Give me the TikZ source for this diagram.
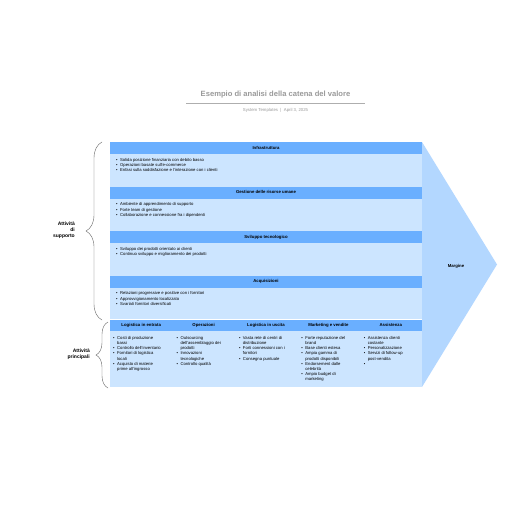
\documentclass[tikz,border=0pt]{standalone}
\usepackage{fontspec}
\setmainfont{Liberation Sans}
\usepackage{xcolor}
\usetikzlibrary{positioning, decorations.pathreplacing}

\definecolor{headblue}{HTML}{6AAFFF}
\definecolor{bodyblue}{HTML}{CCE5FF}
\definecolor{arrowblue}{HTML}{B3D7FF}
\definecolor{titlegray}{HTML}{9A9A9A}

\begin{document}
\begin{tikzpicture}[x=1pt, y=-1pt]
    % Define styles
    \tikzstyle{rowhead} = [rectangle, fill=headblue, minimum width=312pt, minimum height=12pt, inner sep=0pt, outer sep=0pt, text height=3.2pt, text depth=1pt, font=\fontsize{4.3}{5}\selectfont\bfseries]
    \tikzstyle{rowbody} = [rectangle, fill=bodyblue, minimum width=312pt, minimum height=32.5pt, inner sep=0pt, outer sep=0pt]
    \tikzstyle{colhead} = [rectangle, fill=headblue, minimum width=62.4pt, minimum height=11pt, inner sep=0pt, outer sep=0pt, text height=3.2pt, text depth=1pt, font=\fontsize{4.3}{5}\selectfont\bfseries]
    \tikzstyle{colbody} = [rectangle, fill=bodyblue, minimum width=62.4pt, minimum height=56pt, inner sep=0pt, outer sep=0pt]
    \tikzstyle{items} = [anchor=north west, inner sep=0pt, align=left, font=\fontsize{4.2}{5.2}\selectfont]
    \tikzstyle{sidelabel} = [anchor=east, align=right, inner sep=0pt, font=\fontsize{5}{6.2}\selectfont\bfseries]
    \tikzstyle{bracket} = [draw=black!60, line width=0.4pt, decorate]

    \useasboundingbox[fill=white] (0,0) rectangle (516,516);

    % Title
    \node[font=\fontsize{7.6}{9}\selectfont\bfseries, text=titlegray] (title) at (275.5,95) {Esempio di analisi della catena del valore};
    \draw[titlegray!80, line width=0.5pt] ([xshift=-11pt, yshift=-1.2pt]title.south west) -- ([xshift=11pt, yshift=-1.2pt]title.south east);
    \node[font=\fontsize{4.3}{5}\selectfont, text=titlegray, below=3pt of title] (subtitle) {System Templates \ | \ April 3, 2025};

    % Margin arrow
    \fill[arrowblue] (422,142) -- (497,264.5) -- (422,387) -- cycle;
    \node[font=\fontsize{4.3}{5}\selectfont\bfseries] (margin) at (456,266) {Margine};

    % Support activities
    \node[rowhead, anchor=north west] (infraHead) at (110,142) {Infrastruttura};
    \node[rowbody, below=0pt of infraHead] (infraBody) {};
    \node[rowhead, below=0pt of infraBody] (hrHead) {Gestione delle risorse umane};
    \node[rowbody, below=0pt of hrHead] (hrBody) {};
    \node[rowhead, below=0pt of hrBody] (techHead) {Sviluppo tecnologico};
    \node[rowbody, below=0pt of techHead] (techBody) {};
    \node[rowhead, below=0pt of techBody] (procHead) {Acquisizioni};
    \node[rowbody, below=0pt of procHead, minimum height=31.5pt] (procBody) {};

    \node[items] (infraItems) at ([xshift=6pt, yshift=-3.5pt]infraBody.north west) {\begin{tabular}{@{}l@{\hspace{2.5pt}}l@{}}
        \textbullet & Solida posizione finanziaria con debito basso\\
        \textbullet & Operazioni basate sull'e-commerce\\
        \textbullet & Enfasi sulla soddisfazione e l'interazione con i clienti
    \end{tabular}};
    \node[items] (hrItems) at ([xshift=6pt, yshift=-3.5pt]hrBody.north west) {\begin{tabular}{@{}l@{\hspace{2.5pt}}l@{}}
        \textbullet & Ambiente di apprendimento di supporto\\
        \textbullet & Forte team di gestione\\
        \textbullet & Collaborazione e connessione fra i dipendenti
    \end{tabular}};
    \node[items] (techItems) at ([xshift=6pt, yshift=-3.5pt]techBody.north west) {\begin{tabular}{@{}l@{\hspace{2.5pt}}l@{}}
        \textbullet & Sviluppo dei prodotti orientato ai clienti\\
        \textbullet & Continuo sviluppo e miglioramento dei prodotti
    \end{tabular}};
    \node[items] (procItems) at ([xshift=6pt, yshift=-3.5pt]procBody.north west) {\begin{tabular}{@{}l@{\hspace{2.5pt}}l@{}}
        \textbullet & Relazioni progressive e positive con i fornitori\\
        \textbullet & Approvvigionamento localizzato\\
        \textbullet & Svariati fornitori diversificati
    \end{tabular}};

    % Primary activities
    \node[colhead, anchor=north west] (inbHead) at (110,320) {Logistica in entrata};
    \node[colhead, anchor=north west] (opsHead) at (172.4,320) {Operazioni};
    \node[colhead, anchor=north west] (outHead) at (234.8,320) {Logistica in uscita};
    \node[colhead, anchor=north west] (mktHead) at (297.2,320) {Marketing e vendite};
    \node[colhead, anchor=north west] (srvHead) at (359.6,320) {Assistenza};
    \node[colbody, below=0pt of inbHead] (inbBody) {};
    \node[colbody, below=0pt of opsHead] (opsBody) {};
    \node[colbody, below=0pt of outHead] (outBody) {};
    \node[colbody, below=0pt of mktHead] (mktBody) {};
    \node[colbody, below=0pt of srvHead] (srvBody) {};

    \node[items] (inbItems) at ([xshift=3pt, yshift=-4.5pt]inbBody.north west) {\begin{tabular}{@{}l@{\hspace{2.5pt}}l@{}}
        \textbullet & Costi di produzione\\
                    & bassi\\
        \textbullet & Controllo dell'inventario\\
        \textbullet & Fornitori di logistica\\
                    & locali\\
        \textbullet & Acquisto di materie\\
                    & prime all'ingrosso
    \end{tabular}};
    \node[items] (opsItems) at ([xshift=4pt, yshift=-4.5pt]opsBody.north west) {\begin{tabular}{@{}l@{\hspace{2.5pt}}l@{}}
        \textbullet & Outsourcing\\
                    & dell'assemblaggio dei\\
                    & prodotti\\
        \textbullet & Innovazioni\\
                    & tecnologiche\\
        \textbullet & Controllo qualità
    \end{tabular}};
    \node[items] (outItems) at ([xshift=4pt, yshift=-4.5pt]outBody.north west) {\begin{tabular}{@{}l@{\hspace{2.5pt}}l@{}}
        \textbullet & Vasta rete di centri di\\
                    & distribuzione\\
        \textbullet & Forti connessioni con i\\
                    & fornitori\\
        \textbullet & Consegna puntuale
    \end{tabular}};
    \node[items] (mktItems) at ([xshift=4pt, yshift=-4.5pt]mktBody.north west) {\begin{tabular}{@{}l@{\hspace{2.5pt}}l@{}}
        \textbullet & Forte reputazione del\\
                    & brand\\
        \textbullet & Base clienti estesa\\
        \textbullet & Ampia gamma di\\
                    & prodotti disponibili\\
        \textbullet & Endorsement dalle\\
                    & celebrità\\
        \textbullet & Ampio budget di\\
                    & marketing
    \end{tabular}};
    \node[items] (srvItems) at ([xshift=4pt, yshift=-4.5pt]srvBody.north west) {\begin{tabular}{@{}l@{\hspace{2.5pt}}l@{}}
        \textbullet & Assistenza clienti\\
                    & costante\\
        \textbullet & Personalizzazione\\
        \textbullet & Servizi di follow-up\\
                    & post-vendita\\
        \textbullet &
    \end{tabular}};

    % Braces and side labels
    \coordinate (supTop) at (102,142);
    \coordinate (supBot) at (102,320);
    \coordinate (priTop) at (108,322);
    \coordinate (priBot) at (108,388);
    \draw[bracket, decoration={brace, amplitude=16pt}] (supBot) -- (supTop);
    \draw[bracket, decoration={brace, amplitude=12pt}] (priBot) -- (priTop);
    \node[sidelabel] (supLabel) at (75,230) {Attività\\di\\supporto};
    \node[sidelabel] (priLabel) at (90,354) {Attività\\principali};
\end{tikzpicture}
\end{document}
